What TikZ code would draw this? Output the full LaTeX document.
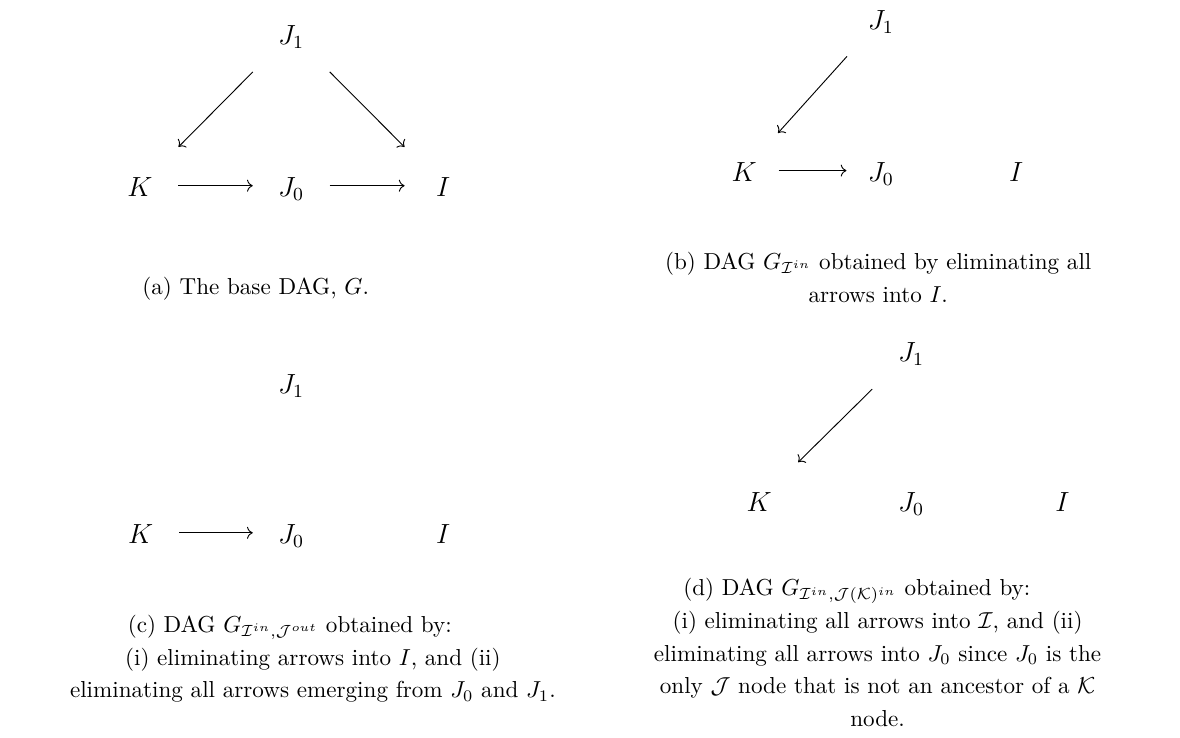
\documentclass[tikz,border=0pt]{standalone}
\usepackage{amsmath}
\usepackage{amssymb}
\usepackage{tikz}
\usetikzlibrary{positioning}
\usetikzlibrary{arrows.meta}

\begin{document}
\begin{tikzpicture}[
  var/.style={circle, inner sep=0pt, minimum size=32.9pt, text height=10pt, text depth=0.6pt, font=\large},
  varb/.style={var, minimum size=29.4pt},
  diag/.style={->, shorten <=7pt, shorten >=7pt},
  subcap/.style={align=center, anchor=base, font=\fontsize{10}{14.2}\selectfont}
]
\useasboundingbox (0,0) rectangle (17.95,11.225);

% (a) base DAG
\node (aj1) at (4.43,10.72) [var] {$J_1$};
\node (ak)  at (2.13,8.40)  [var] {$K$};
\node (aj0) at (4.43,8.40)  [var] {$J_0$};
\node (ai)  at (6.74,8.40)  [var] {$I$};

\draw[diag] (aj1) -- (ak);
\draw[diag] (aj1) -- (ai);
\draw[->] (ak) -- (aj0);
\draw[->] (aj0) -- (ai);

\node (capa) at (3.89,6.74) [subcap] {(a) The base DAG, $G$.};

% (b) arrows into I removed
\node (bj1) at (13.40,10.94) [varb] {$J_1$};
\node (bk)  at (11.32,8.63)  [varb] {$K$};
\node (bj0) at (13.40,8.63)  [varb] {$J_0$};
\node (bi)  at (15.46,8.63)  [varb] {$I$};

\draw[diag] (bj1) -- (bk);
\draw[->] (bk) -- (bj0);

% base anchor sits on the last line
\node (capb) at (13.36,6.63) [subcap] {(b) DAG $G_{\mathcal{I}^{in}}$ obtained by eliminating all\\arrows into $I$.};

% (c)
\node (cj1) at (4.43,5.41) [var] {$J_1$};
\node (ck)  at (2.14,3.12) [var] {$K$};
\node (cj0) at (4.43,3.12) [var] {$J_0$};
\node (ci)  at (6.74,3.12) [var] {$I$};

\draw[->] (ck) -- (cj0);

\node (capc) at (4.76,0.61) [subcap] {(c) DAG $G_{\mathcal{I}^{in},\mathcal{J}^{out}}$ obtained by:\hspace*{20pt}\\(i) eliminating arrows into $I$, and (ii)\\eliminating all arrows emerging from $J_0$ and $J_1$.};

% (d)
\node (dj1) at (13.86,5.89) [var] {$J_1$};
\node (dk)  at (11.55,3.61) [var] {$K$};
\node (dj0) at (13.86,3.61) [var] {$J_0$};
\node (di)  at (16.16,3.61) [var] {$I$};

\draw[diag] (dj1) -- (dk);

\node (capd) at (13.35,0.17) [subcap] {(d) DAG $G_{\mathcal{I}^{in},\mathcal{J}(\mathcal{K})^{in}}$ obtained by:\hspace*{18pt}\\(i) eliminating all arrows into $\mathcal{I}$, and (ii)\\eliminating all arrows into $J_0$ since $J_0$ is the\\only $\mathcal{J}$ node that is not an ancestor of a $\mathcal{K}$\\node.};

\end{tikzpicture}
\end{document}
